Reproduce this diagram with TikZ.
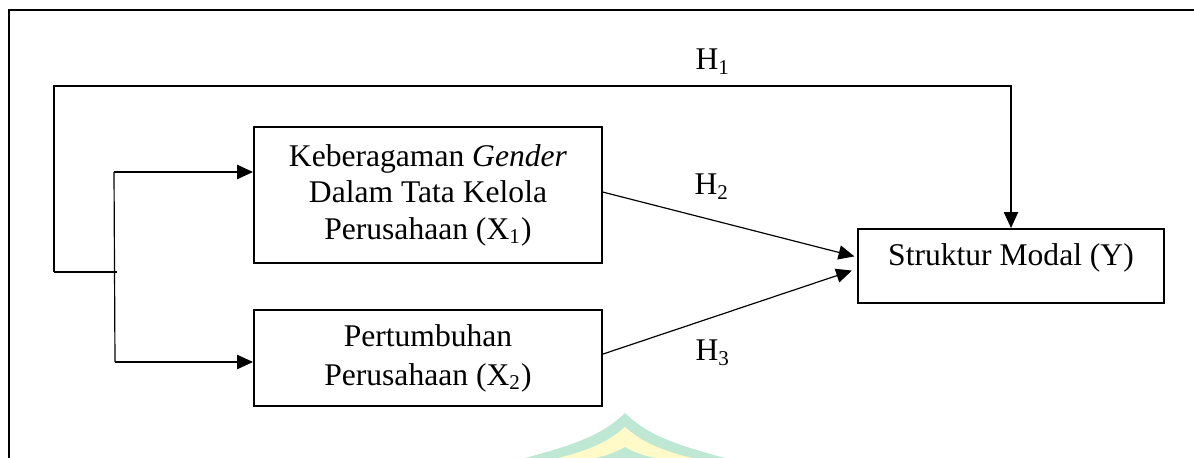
\documentclass[tikz,border=0pt]{standalone}
\usepackage{fontspec}
\setmainfont{Liberation Serif}
\usetikzlibrary{arrows.meta,calc}
\definecolor{wmgreen}{HTML}{BEE8D4}
\definecolor{wmyellow}{HTML}{FFFAC8}
\tikzset{
  boxnode/.style={draw, line width=0.8pt, inner sep=0pt, align=center, font=\fontsize{12}{13.9}\selectfont},
  conn/.style={line width=0.45pt},
  arr/.style={conn, -{Triangle[length=6pt,width=5.4pt]}},
  hlabel/.style={font=\fontsize{12}{14}\selectfont, inner sep=0pt},
}
\begin{document}
\begin{tikzpicture}[x=0.38pt,y=-0.38pt]
\useasboundingbox (0,0) rectangle (1194,458);
\begin{scope}
\clip (0,0) rectangle (1194,458);
% watermark
\fill[wmgreen] (625,413) .. controls (605,432) and (585,442) .. (525,458) -- (725,458) .. controls (665,442) and (645,432) .. (625,413) -- cycle;
\fill[wmyellow] (625,427) .. controls (608,442) and (590,450) .. (558,458) -- (692,458) .. controls (660,450) and (642,442) .. (625,427) -- cycle;
\fill[wmgreen] (625,447) .. controls (615,453) and (605,456) .. (595,458) -- (655,458) .. controls (645,456) and (635,453) .. (625,447) -- cycle;
% outer frame
\draw[line width=0.55pt] (9,470) -- (9,10) -- (1200,10);
\end{scope}

% boxes
\node[boxnode, minimum width=132.2pt, minimum height=51.7pt] (x1) at (428,195)
  {Keberagaman \textit{Gender}\\Dalam Tata Kelola\\Perusahaan (X\textsubscript{1})};
\node[boxnode, minimum width=132.2pt, minimum height=36.5pt,
  font=\fontsize{12}{14.8}\selectfont] (x2) at (428,358)
  {Pertumbuhan\\Perusahaan (X\textsubscript{2})};
\node[boxnode, minimum width=116.3pt, minimum height=28.1pt,
  label={[font=\fontsize{12}{14}\selectfont, yshift=3pt]center:Struktur Modal (Y)}] (y) at (1011,266) {};

% junction on the left
\coordinate (j)  at (117,272);
\coordinate (jt) at (114,172);
\coordinate (jb) at (115,362);
\coordinate (a)  at (54,272);
\coordinate (b)  at (54,86);

\draw[conn] (jt) -- (jb);
\draw[line width=0.7pt] (a) -- (j);
\draw[arr] (jt) -- (jt -| x1.west);
\draw[arr] (jb) -- (jb -| x2.west);

% H1
\draw[arr] (a) -- (b) -| (y.north);
% H2, H3
\draw[arr, shorten >=1pt] ([yshift=1.1pt]x1.east) -- ([yshift=3.4pt]y.west);
\draw[arr, shorten >=2pt] ([yshift=1.5pt]x2.east) -- ([yshift=-1.1pt]y.west);

% labels
\node[hlabel] (h1) at (713,62) {H\textsubscript{1}};
\node[hlabel] (h2) at (712,187) {H\textsubscript{2}};
\node[hlabel] (h3) at (713,353) {H\textsubscript{3}};
\end{tikzpicture}
\end{document}
